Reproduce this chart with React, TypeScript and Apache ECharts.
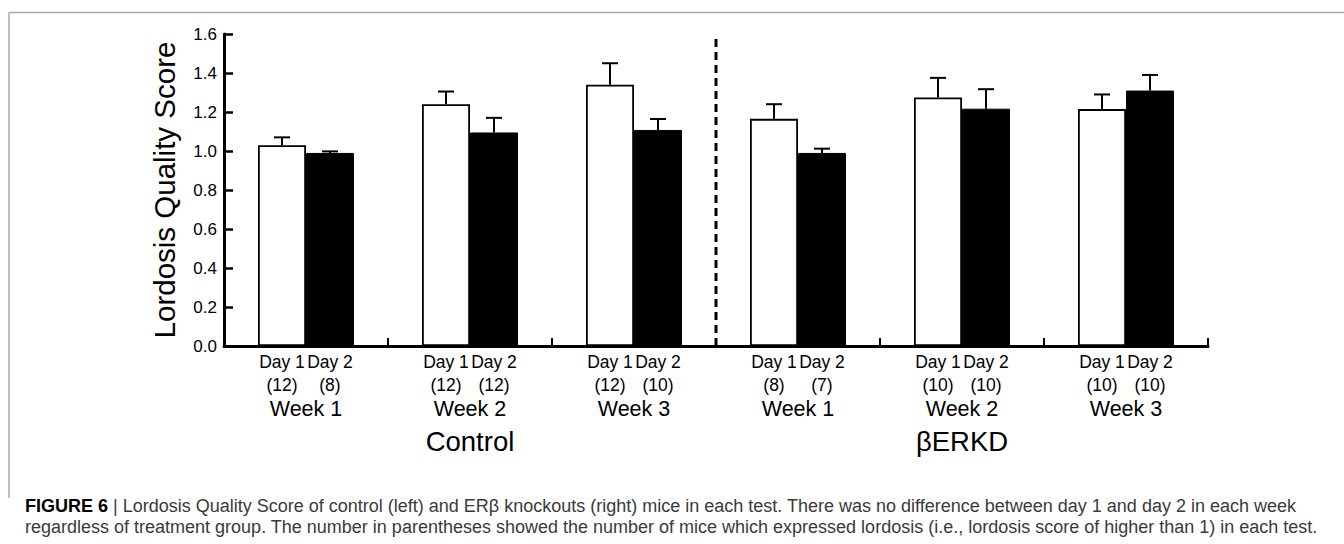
import React, { useEffect, useRef } from "react";
import * as echarts from "echarts";

// ---- data ----
const weekLabels = ["Week 1", "Week 2", "Week 3", "Week 1", "Week 2", "Week 3"];
const groupLabels = ["Control", "βERKD"];
const dayLabels = ["Day 1", "Day 2"];
const day1Counts = ["12", "12", "12", "8", "10", "10"];
const day2Counts = ["8", "12", "10", "7", "10", "10"];
const day1Mean = [1.03, 1.24, 1.34, 1.165, 1.275, 1.215];
const day1Err = [0.04, 0.065, 0.11, 0.075, 0.1, 0.075];
const day2Mean = [0.99, 1.095, 1.108, 0.99, 1.217, 1.31];
const day2Err = [0.008, 0.075, 0.056, 0.022, 0.1, 0.08];
const yTickMin = 0;
const yTickMax = 1.6;
const yTickStep = 0.2;
const dividerAt = [3]; // boundary between Control and βERKD groups (in category units)
const yAxisTitle = "Lordosis Quality Score";
const captionBold = "FIGURE 6";
const captionLine1 =
  " | Lordosis Quality Score of control (left) and ERβ knockouts (right) mice in each test. There was no difference between day 1 and day 2 in each week";
const captionLine2 =
  "regardless of treatment group. The number in parentheses showed the number of mice which expressed lordosis (i.e., lordosis score of higher than 1) in each test.";

const FONT = "'Liberation Sans', Arial, Helvetica, sans-serif";
const BAR_W = 48;
const CAP_W = 16;

export default function App() {
  const ref = useRef<HTMLDivElement>(null);

  useEffect(() => {
    if (!ref.current) return;
    const chart = echarts.init(ref.current, null, { renderer: "svg" });

    const errData = (means: number[], errs: number[], side: number) =>
      means.map((m, i) => [i, m, m + errs[i], side]);

    const renderErr = (params: any, api: any) => {
      const i = api.value(0);
      const base = api.coord([i, api.value(1)]);
      const top = api.coord([i, api.value(2)]);
      const x = base[0] + (api.value(3) * BAR_W) / 2;
      return {
        type: "group",
        children: [
          {
            type: "line",
            shape: { x1: x, y1: base[1], x2: x, y2: top[1] },
            style: { stroke: "#000", lineWidth: 2 },
          },
          {
            type: "line",
            shape: { x1: x - CAP_W / 2, y1: top[1], x2: x + CAP_W / 2, y2: top[1] },
            style: { stroke: "#000", lineWidth: 2 },
          },
        ],
      };
    };

    const option: any = {
      animation: false,
      backgroundColor: "#fff",
      grid: { left: 224, right: 136, top: 34, bottom: 198, containLabel: false },
      xAxis: [
        {
          type: "category",
          data: weekLabels,
          position: "bottom",
          axisLine: { show: true, lineStyle: { color: "#000", width: 3 } },
          axisTick: {
            show: true,
            inside: true,
            length: 8,
            interval: 0,
            lineStyle: { color: "#000", width: 2 },
          },
          axisLabel: {
            interval: 0,
            margin: 4,
            color: "#000",
            fontFamily: FONT,
            formatter: (value: string, index: number) =>
              `{d|${dayLabels[0]}}{d|${dayLabels[1]}}\n{n|(${day1Counts[index]})}{n|(${day2Counts[index]})}\n{w|${value}}`,
            rich: {
              d: { width: BAR_W, align: "center", fontSize: 17.5, lineHeight: 23, fontFamily: FONT, color: "#000" },
              n: { width: BAR_W, align: "center", fontSize: 17.5, lineHeight: 23, fontFamily: FONT, color: "#000" },
              w: { fontSize: 21.5, lineHeight: 26, fontFamily: FONT, color: "#000" },
            },
          },
          splitLine: { show: false },
        },
        {
          type: "category",
          data: groupLabels,
          position: "bottom",
          axisLine: { show: false },
          axisTick: { show: false },
          axisLabel: { margin: 80, fontSize: 27.5, color: "#000", fontFamily: FONT, lineHeight: 30 },
          splitLine: { show: false },
        },
        {
          type: "value",
          min: 0,
          max: weekLabels.length,
          show: false,
          splitLine: { show: false },
        },
      ],
      yAxis: {
        type: "value",
        min: yTickMin,
        max: yTickMax,
        interval: yTickStep,
        name: yAxisTitle,
        nameLocation: "middle",
        nameRotate: 90,
        nameGap: 45,
        nameTextStyle: { fontSize: 29.5, color: "#000", fontFamily: FONT },
        axisLine: { show: true, lineStyle: { color: "#000", width: 3 } },
        axisTick: { show: true, inside: true, length: 9, lineStyle: { color: "#000", width: 2.5 } },
        axisLabel: {
          margin: 7,
          fontSize: 17,
          color: "#000",
          fontFamily: FONT,
          formatter: (v: number) => v.toFixed(1),
        },
        splitLine: { show: false },
      },
      series: [
        {
          type: "bar",
          name: dayLabels[0],
          data: day1Mean,
          barWidth: BAR_W,
          barGap: "0%",
          itemStyle: { color: "#fff", borderColor: "#000", borderWidth: 1.8 },
          z: 2,
        },
        {
          type: "bar",
          name: dayLabels[1],
          data: day2Mean,
          barWidth: BAR_W,
          barGap: "0%",
          itemStyle: { color: "#000", borderColor: "#000", borderWidth: 1 },
          z: 2,
        },
        {
          type: "custom",
          data: errData(day1Mean, day1Err, -1),
          renderItem: renderErr,
          z: 3,
        },
        {
          type: "custom",
          data: errData(day2Mean, day2Err, 1),
          renderItem: renderErr,
          z: 3,
        },
        {
          type: "line",
          xAxisIndex: 2,
          data: [
            [dividerAt[0], yTickMin],
            [dividerAt[0], yTickMax],
          ],
          symbol: "none",
          lineStyle: { color: "#000", width: 3, type: [8, 5] },
          z: 4,
        },
      ],
      graphic: [
        {
          type: "line",
          shape: { x1: 9, y1: 12.5, x2: 1344, y2: 12.5 },
          style: { stroke: "#aaaaaa", lineWidth: 1.5 },
        },
        {
          type: "line",
          shape: { x1: 9, y1: 12.5, x2: 9, y2: 498 },
          style: { stroke: "#aaaaaa", lineWidth: 1.5 },
        },
        {
          type: "text",
          x: 25,
          y: 506,
          style: {
            text: `{b|${captionBold}}${captionLine1}`,
            fontSize: 18,
            fontFamily: FONT,
            fill: "#3a3a3a",
            verticalAlign: "middle",
            rich: { b: { fontWeight: "bold", fontSize: 18, fontFamily: FONT, fill: "#000" } },
          },
        },
        {
          type: "text",
          x: 25,
          y: 527,
          style: {
            text: captionLine2,
            fontSize: 18,
            fontFamily: FONT,
            fill: "#3a3a3a",
            verticalAlign: "middle",
          },
        },
      ],
    };

    chart.setOption(option);
    return () => chart.dispose();
  }, []);

  return (
    <div
      ref={ref}
      style={{ position: "fixed", left: 0, top: 0, width: 1344, height: 544, background: "#fff" }}
    />
  );
}
